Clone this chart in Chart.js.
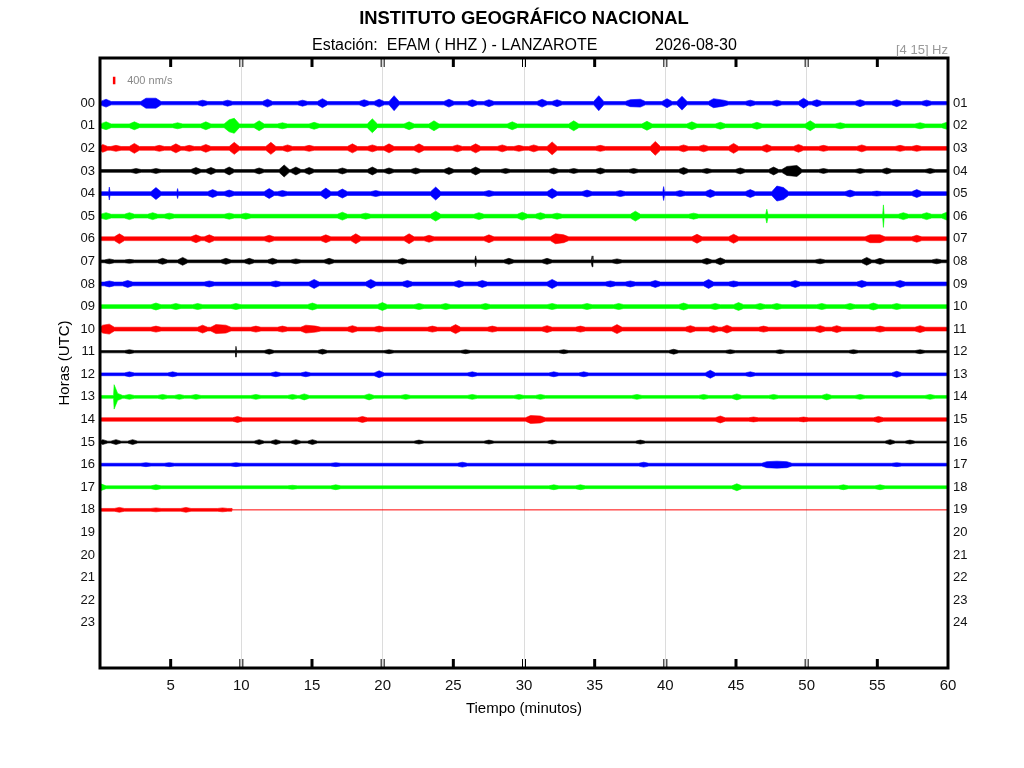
<!DOCTYPE html>
<html>
<head>
<meta charset="utf-8">
<script src="https://cdn.jsdelivr.net/npm/chart.js@4.4.1/dist/chart.umd.min.js"></script>
<style>
html,body{margin:0;padding:0;background:#fff;}
#wrap{width:1024px;height:768px;position:relative;}
</style>
</head>
<body>
<div id="wrap"><canvas id="c" width="1024" height="768"></canvas></div>
<script>
// ---------- texts ----------
const TITLE = 'INSTITUTO GEOGRÁFICO NACIONAL';
const STATION = 'Estación:  EFAM ( HHZ ) - LANZAROTE';
const DATE = '2026-08-30';
const BAND = '[4 15] Hz';
const X_LABEL = 'Tiempo (minutos)';
const Y_LABEL = 'Horas (UTC)';
const SCALE_LABEL = '400 nm/s';
const SCALE_NMS = 400;

// ---------- axes ----------
const HOURS_LEFT  = ['00','01','02','03','04','05','06','07','08','09','10','11','12','13','14','15','16','17','18','19','20','21','22','23'];
const HOURS_RIGHT = ['01','02','03','04','05','06','07','08','09','10','11','12','13','14','15','16','17','18','19','20','21','22','23','24'];
const MINUTE_TICKS = [5,10,15,20,25,30,35,40,45,50,55,60];
const ROW_COLORS = ['#0000ff','#00ff00','#ff0000','#000000'];

// ---------- data: background half-amplitude per hour row (nm/s) ----------
const BASE_NMS = [90,100,100,75,100,100,100,75,100,100,100,60,75,75,90,50,75,75,75];
// last recorded minute of each hour row
const LAST_MINUTE = [60,60,60,60,60,60,60,60,60,60,60,60,60,60,60,60,60,60,9.33];

// bursts per hour row: [minute, half-amplitude nm/s, (optional) half-duration in minutes]
const burstsH00 = [[0.43,210],[3.25,265],[3.96,265],[7.26,160],[9.03,160],[11.85,210],[14.33,160],[15.74,240],[18.69,185],[19.75,210],[20.81,400],[24.69,210],[26.34,185],[27.52,185],[31.28,210],[32.34,185],[35.29,400],[37.52,185],[38.23,210],[40.12,240],[41.18,370],[43.41,240],[44.12,160],[46.01,160],[47.89,160],[49.78,265],[50.72,185],[53.78,185],[56.37,185],[58.49,160]];
const burstsH01 = [[0.43,210],[2.43,210],[5.49,160],[7.49,210],[9.14,320],[9.50,400],[11.26,265],[12.91,160],[15.15,185],[19.27,370],[21.87,210],[23.63,265],[29.17,210],[33.52,265],[38.70,240],[41.88,210],[43.89,185],[46.48,185],[50.25,265],[52.37,160],[58.02,160],[59.91,185]];
const burstsH02 = [[0.19,210],[1.13,160],[2.43,265],[4.20,160],[5.37,240],[6.32,160],[7.49,210],[9.50,320],[12.09,320],[13.27,185],[14.80,160],[17.86,240],[19.27,185],[20.45,240],[22.57,240],[25.28,185],[26.58,240],[28.46,185],[29.64,160],[30.69,185],[31.99,345],[35.40,160],[39.29,370],[41.29,185],[42.71,185],[44.83,265],[47.18,210],[49.42,210],[51.19,160],[53.90,185],[56.61,160],[57.79,160]];
const burstsH03 = [[2.55,130],[3.96,130],[6.79,185],[7.85,185],[9.14,210],[11.26,160],[13.03,320],[13.86,210],[14.80,185],[17.15,160],[19.27,210],[20.45,160],[22.34,160],[24.69,185],[26.58,210],[28.70,130],[32.11,160],[33.52,130],[35.40,160],[37.76,130],[41.29,185],[42.94,130],[45.30,160],[47.66,210],[48.60,240],[49.31,290],[51.19,130],[53.78,130],[55.67,160],[58.73,130]];
const burstsH04 = [[0.66,345,0.05],[3.96,320],[5.49,265,0.05],[7.97,210],[9.14,185],[11.97,265],[12.91,160],[15.98,290],[17.15,240],[19.51,160],[23.75,345],[27.52,160],[31.99,265],[34.46,185],[36.82,160],[39.88,370,0.06],[41.06,160],[43.18,210],[46.01,210],[47.89,400],[48.36,320],[53.07,185],[54.96,130],[57.79,210]];
const burstsH05 = [[0.43,185],[2.08,185],[3.73,185],[4.90,160],[9.14,160],[10.32,160],[17.15,210],[18.80,160],[23.75,265],[26.81,185],[29.88,210],[31.16,185],[32.34,160],[37.88,265],[42.00,160],[47.18,370,0.08],[55.43,600,0.05],[56.84,185],[58.49,185],[59.91,210]];
const burstsH06 = [[1.37,265],[6.79,210],[7.73,210],[11.97,185],[15.98,210],[18.10,265],[21.87,265],[23.28,185],[27.52,210],[32.22,265],[32.81,210],[42.24,240],[44.83,240],[54.49,210],[55.19,210],[57.79,185]];
const burstsH07 = [[0.66,130],[2.08,105],[4.43,160],[5.85,210],[8.91,160],[10.56,160],[12.21,160],[13.86,130],[16.21,160],[21.40,160],[26.58,290,0.06],[28.93,160],[31.63,160],[34.82,290,0.06],[36.58,130],[42.94,160],[43.89,185],[50.95,130],[54.25,210],[55.19,160],[59.20,130]];
const burstsH08 = [[0.66,160],[1.96,185],[7.73,160],[12.44,160],[15.15,240],[19.16,240],[21.75,185],[25.40,185],[27.05,185],[31.99,240],[36.11,160],[37.52,160],[39.29,185],[43.06,240],[44.83,160],[49.19,185],[53.90,185],[56.61,185]];
const burstsH09 = [[3.96,185],[5.37,160],[6.91,160],[9.62,160],[15.03,185],[19.98,210],[22.57,160],[24.46,160],[27.28,160],[31.99,160],[34.46,160],[36.70,160],[41.29,185],[43.53,160],[45.18,210],[46.71,160],[47.89,160],[51.07,160],[53.07,160],[54.72,185],[56.37,160]];
const burstsH10 = [[0.19,210],[0.66,265],[3.96,160],[7.26,210],[8.20,240],[8.91,210],[11.03,160],[12.91,160],[14.56,210],[15.27,160],[17.86,185],[19.75,160],[23.52,160],[25.16,240],[27.76,160],[31.63,185],[33.99,160],[36.58,240],[41.77,185],[43.41,185],[44.36,210],[46.95,160],[50.95,185],[52.13,185],[55.19,160],[58.02,185]];
const burstsH11 = [[2.08,105],[9.62,290,0.04],[11.97,130],[15.74,130],[20.45,105],[25.87,105],[32.81,105],[40.59,130],[44.59,105],[48.13,105],[53.31,105],[58.02,105]];
const burstsH12 = [[2.08,130],[5.14,130],[12.44,130],[14.56,130],[19.75,185],[26.34,130],[32.11,130],[34.23,130],[43.18,210],[46.01,130],[56.37,160]];
const burstsH13 = [[1.00,650,0.04],[1.25,185],[2.08,130],[4.43,130],[5.61,130],[6.79,130],[11.03,130],[13.62,130],[14.45,160],[19.04,160],[21.63,130],[26.34,130],[29.64,130],[31.16,130],[37.99,130],[42.71,130],[45.06,160],[47.66,130],[51.42,160],[53.78,130],[58.73,130]];
const burstsH14 = [[9.73,160],[18.57,160],[30.46,210],[31.16,185],[43.89,185],[46.24,130],[49.78,130],[55.08,160]];
const burstsH15 = [[0.19,130],[1.13,130],[2.31,130],[11.26,130],[12.44,130],[13.86,130],[15.03,130],[22.57,105],[27.52,105],[31.99,105],[38.23,105],[55.90,130],[57.31,105]];
const burstsH16 = [[3.25,105],[4.90,105],[9.62,105],[16.68,105],[25.64,130],[38.47,130],[47.18,160],[47.89,185],[48.60,160],[56.37,105]];
const burstsH17 = [[0.07,185],[3.96,130],[13.62,105],[16.68,130],[32.11,130],[33.99,130],[45.06,185],[52.60,130],[55.19,130]];
const burstsH18 = [[1.37,130],[3.96,105],[6.08,130],[8.67,105]];
const BURSTS = [burstsH00,burstsH01,burstsH02,burstsH03,burstsH04,burstsH05,burstsH06,burstsH07,burstsH08,burstsH09,burstsH10,burstsH11,burstsH12,burstsH13,burstsH14,burstsH15,burstsH16,burstsH17,burstsH18];

// ---------- drawing constants ----------
const NMS_PER_ROW = 1205;      // trace gain: nm/s per hour-row spacing
const SPINDLE = 0.36;          // default half-width of a burst spindle (minutes)
const FONT = '"Liberation Sans", Arial, Helvetica, sans-serif';

function envelope(row){
  const base = BASE_NMS[row], end = LAST_MINUTE[row];
  const b = BURSTS[row].filter(p => p[0] <= end).slice().sort((p,q) => p[0]-q[0]);
  const hw = p => (p && p[2]) || SPINDLE;
  const pts = [[0, base]];
  for (let i = 0; i < b.length; i++){
    const t = b[i][0], a = b[i][1], w = hw(b[i]);
    const prev = b[i-1], next = b[i+1];
    if (!prev || t - prev[0] > w + hw(prev)) pts.push([Math.max(0, t-w), base]);
    pts.push([t, a]);
    if (!next || next[0] - t > w + hw(next)) pts.push([Math.min(end, t+w), base]);
  }
  pts.push([end, base]);
  if (end < 60){ pts.push([end, 0]); pts.push([60, 0]); }
  return pts;
}

const datasets = [];
BURSTS.forEach((_, row) => {
  const col = ROW_COLORS[row % 4];
  const env = envelope(row);
  const common = {borderColor: col, backgroundColor: col, borderWidth: 0.6, pointRadius: 0, tension: 0, yAxisID: 'y'};
  datasets.push(Object.assign({label: HOURS_LEFT[row] + ' up', data: env.map(p => ({x: p[0], y: row - p[1]/NMS_PER_ROW})), fill: false}, common));
  datasets.push(Object.assign({label: HOURS_LEFT[row] + ' down', data: env.map(p => ({x: p[0], y: row + p[1]/NMS_PER_ROW})), fill: '-1'}, common));
});
// amplitude scale bar (400 nm/s), placed in the empty row above 00
const SCALE_AT_MINUTE = 1.0, SCALE_AT_ROW = -1;
datasets.push({label: 'scale', data: [{x: SCALE_AT_MINUTE, y: SCALE_AT_ROW - SCALE_NMS/2/NMS_PER_ROW}, {x: SCALE_AT_MINUTE, y: SCALE_AT_ROW + SCALE_NMS/2/NMS_PER_ROW}],
  borderColor: '#ff0000', borderWidth: 2.5, pointRadius: 0, fill: false, yAxisID: 'y'});

const deco = {
  id: 'deco',
  afterDraw(chart){
    const {ctx, chartArea: a, scales: {x, y}} = chart;
    ctx.save();
    const line = (x1,y1,x2,y2) => {ctx.beginPath(); ctx.moveTo(x1,y1); ctx.lineTo(x2,y2); ctx.stroke();};
    ctx.strokeStyle = '#000';
    MINUTE_TICKS.forEach(m => {
      if (m >= 60) return;
      const px = x.getPixelForValue(m);
      if (m % 10 === 0){
        ctx.lineWidth = 1;
        [px-1.5, px+1.5].forEach(xx => { line(xx, a.top, xx, a.top+9); line(xx, a.bottom, xx, a.bottom-9); });
      } else {
        ctx.lineWidth = 3;
        line(px, a.top, px, a.top+9); line(px, a.bottom, px, a.bottom-9);
      }
    });
    ctx.lineWidth = 3;
    ctx.strokeRect(a.left, a.top, a.right-a.left, a.bottom-a.top);

    const cx = (a.left + a.right)/2;
    ctx.fillStyle = '#000';
    ctx.textBaseline = 'middle';
    ctx.textAlign = 'center';
    ctx.font = 'bold 18.4px ' + FONT;
    ctx.fillText(TITLE, cx, 19);
    ctx.font = '16px ' + FONT;
    ctx.textAlign = 'left';
    ctx.fillText(STATION, 312, 46);
    ctx.fillText(DATE, 655, 46);
    ctx.fillStyle = '#999';
    ctx.font = '13px ' + FONT;
    ctx.textAlign = 'right';
    ctx.fillText(BAND, a.right, 50);
    // scale label
    ctx.fillStyle = '#888';
    ctx.font = '11px ' + FONT;
    ctx.textAlign = 'left';
    ctx.fillText(SCALE_LABEL, x.getPixelForValue(SCALE_AT_MINUTE) + 13, y.getPixelForValue(SCALE_AT_ROW));
    // axis titles
    ctx.fillStyle = '#000';
    ctx.font = '15px ' + FONT;
    ctx.textAlign = 'center';
    ctx.fillText(X_LABEL, cx, 709);
    ctx.translate(65, (a.top + a.bottom)/2);
    ctx.rotate(-Math.PI/2);
    ctx.fillText(Y_LABEL, 0, 0);
    ctx.restore();
  }
};

Chart.defaults.font.family = FONT;
new Chart(document.getElementById('c'), {
  type: 'line',
  data: {datasets},
  options: {
    responsive: false,
    animation: false,
    events: [],
    layout: {padding: {top: 58, left: 0, right: 0, bottom: 0}},
    plugins: {legend: {display: false}, tooltip: {enabled: false}, title: {display: false}},
    scales: {
      x: {
        type: 'linear', min: 0, max: 60, position: 'bottom',
        afterFit(s){ s.height = 100; },
        border: {display: false},
        grid: {drawTicks: false, lineWidth: 1, color: ctx => (ctx.tick && ctx.tick.value % 10 === 0 && ctx.tick.value > 0 && ctx.tick.value < 60) ? '#dcdcdc' : 'rgba(0,0,0,0)'},
        ticks: {stepSize: 5, autoSkip: false, maxRotation: 0, padding: 9, color: '#111', font: {size: 15},
          callback: v => MINUTE_TICKS.includes(v) ? String(v) : ''}
      },
      y: {
        type: 'linear', min: -2, max: 25, reverse: true, position: 'left',
        afterFit(s){ s.width = 100; },
        border: {display: false},
        grid: {display: false, drawTicks: false},
        ticks: {stepSize: 1, autoSkip: false, padding: 5, color: '#111', font: {size: 13},
          callback: v => (v >= 0 && v < HOURS_LEFT.length) ? HOURS_LEFT[v] : ''}
      },
      y2: {
        type: 'linear', min: -2, max: 25, reverse: true, position: 'right',
        afterFit(s){ s.width = 76; },
        border: {display: false},
        grid: {display: false, drawTicks: false},
        ticks: {stepSize: 1, autoSkip: false, padding: 5, color: '#111', font: {size: 13},
          callback: v => (v >= 0 && v < HOURS_RIGHT.length) ? HOURS_RIGHT[v] : ''}
      }
    }
  },
  plugins: [deco]
});
</script>
</body>
</html>
